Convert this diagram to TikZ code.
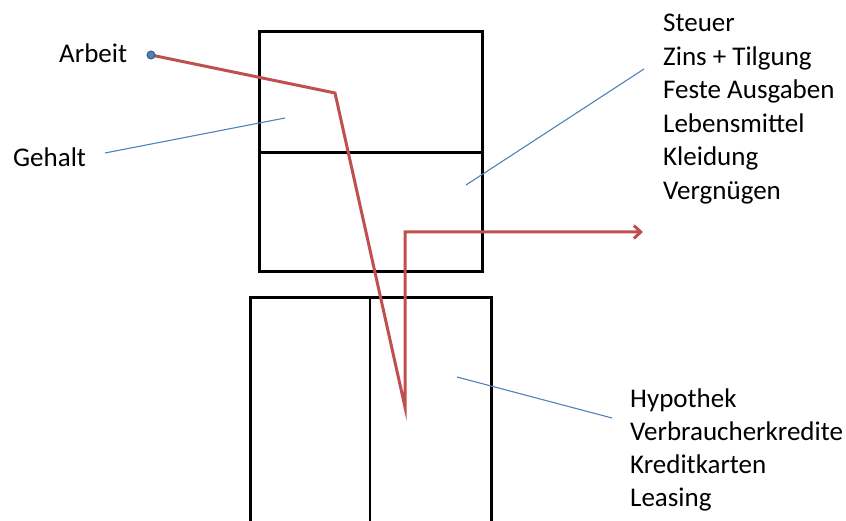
\documentclass[tikz,border=0pt]{standalone}
\usepackage{fontspec}
\setmainfont{Carlito}
\usetikzlibrary{arrows.meta}
\definecolor{redln}{RGB}{192,80,77}
\definecolor{blueln}{RGB}{79,129,189}
\definecolor{bluedk}{RGB}{56,93,138}
\begin{document}
\begin{tikzpicture}[x=1pt,y=-1pt,
  box/.style={draw=black,line width=3pt},
  flow/.style={draw=redln,line width=3pt},
  callout/.style={draw=blueln,line width=1.1pt},
  lbl/.style={font=\fontsize{27}{33.5}\selectfont,inner sep=0pt,anchor=base west}]
\useasboundingbox (0,0) rectangle (846,521);
% top box
\draw[box] (259,32) rectangle (482,272);
\draw[box] (259,153) -- (482,153);
% bottom box
\draw[box] (250,530) -- (250,298) -- (491,298) -- (491,530);
\draw[line width=2.2pt] (370,298) -- (370,530);
% coordinates
\coordinate (a0) at (151,55);
\coordinate (a1) at (335,93);
\coordinate (a2) at (405,407);
\coordinate (a3) at (405,232);
\coordinate (a4) at (643,232);
\draw[flow,line join=miter,-{Straight Barb[length=7pt,width=13pt]}] (a0) -- (a1) -- (a2) -- (a3) -- (a4);
\node[circle,fill=blueln,draw=bluedk,line width=1pt,inner sep=0pt,minimum size=8pt] (dot) at (a0) {};
% labels
\node[lbl] (arbeit) at (59,63) {Arbeit};
\node[lbl] (gehalt) at (13,167) {Gehalt};
\node[lbl] (s1) at (663,32) {Steuer};
\node[lbl] (s2) at (663,65.5) {Zins + Tilgung};
\node[lbl] (s3) at (663,99) {Feste Ausgaben};
\node[lbl] (s4) at (663,132.5) {Lebensmittel};
\node[lbl] (s5) at (663,166) {Kleidung};
\node[lbl] (s6) at (663,199.5) {Vergnügen};
\node[lbl] (k1) at (630,407) {Hypothek};
\node[lbl] (k2) at (630,440) {Verbraucherkredite};
\node[lbl] (k3) at (630,473) {Kreditkarten};
\node[lbl] (k4) at (630,506) {Leasing};
% callouts
\coordinate (g0) at (105,153);
\coordinate (g1) at (285,118);
\coordinate (u0) at (466,185);
\coordinate (u1) at (644,69);
\coordinate (b0) at (457,377);
\coordinate (b1) at (612,418);
\draw[callout] (g0) -- (g1);
\draw[callout] (u0) -- (u1);
\draw[callout] (b0) -- (b1);
\end{tikzpicture}
\end{document}
